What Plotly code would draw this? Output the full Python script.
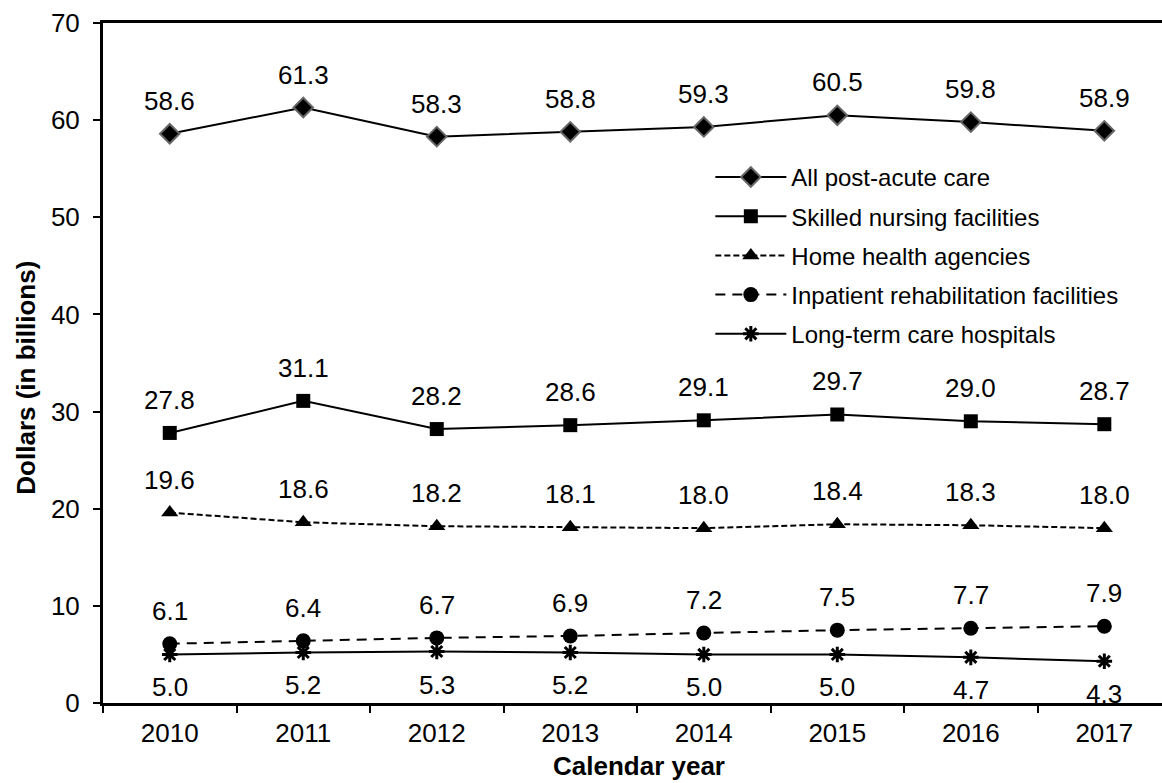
import plotly.graph_objects as go

years = ["2010", "2011", "2012", "2013", "2014", "2015", "2016", "2017"]
all_pac = [58.6, 61.3, 58.3, 58.8, 59.3, 60.5, 59.8, 58.9]
snf = [27.8, 31.1, 28.2, 28.6, 29.1, 29.7, 29.0, 28.7]
hha = [19.6, 18.6, 18.2, 18.1, 18.0, 18.4, 18.3, 18.0]
irf = [6.1, 6.4, 6.7, 6.9, 7.2, 7.5, 7.7, 7.9]
ltch = [5.0, 5.2, 5.3, 5.2, 5.0, 5.0, 4.7, 4.3]

FONT = "Liberation Sans, Arial, sans-serif"
fig = go.Figure()

series = [
    ("All post-acute care", all_pac, "solid", dict(symbol="diamond", size=15, color="black", line=dict(color="#666666", width=2)), 1),
    ("Skilled nursing facilities", snf, "solid", dict(symbol="square", size=14, color="black"), 1),
    ("Home health agencies", hha, "6px,3px", dict(symbol="triangle-up", size=15, color="black"), 1),
    ("Inpatient rehabilitation facilities", irf, "10px,7px", dict(symbol="circle", size=15, color="black"), 1),
    ("Long-term care hospitals", ltch, "solid", dict(symbol="asterisk-open", size=13, color="black", line=dict(color="black", width=3)), -1),
]

annotations = []
for name, vals, dash, marker, side in series:
    fig.add_trace(go.Scatter(
        x=years, y=vals, name=name, mode="lines+markers", legendgroup=name,
        line=dict(color="black", width=2, dash=dash),
        marker=marker,
    ))
    for i, yv in enumerate(vals):
        annotations.append(dict(
            x=i, y=yv, xref="x", yref="y", text=f"{yv:.1f}", showarrow=False,
            yshift=33 * side, font=dict(family=FONT, size=26, color="black"),
        ))

annotations.append(dict(
    text="<b>Calendar year</b>", xref="paper", yref="paper", x=0.506, y=-0.092,
    xanchor="center", yanchor="middle", showarrow=False,
    font=dict(family=FONT, size=26, color="black"),
))
annotations.append(dict(
    text="<b>Dollars (in billions)</b>", xref="paper", yref="paper", x=-0.073, y=0.478,
    xanchor="center", yanchor="middle", showarrow=False, textangle=-90,
    font=dict(family=FONT, size=26, color="black"),
))

fig.update_layout(
    width=1162, height=783,
    margin=dict(l=103, r=0, t=23, b=80),
    plot_bgcolor="white", paper_bgcolor="white",
    font=dict(family=FONT, size=26, color="black"),
    showlegend=True,
    legend=dict(x=0.5735, y=0.806, xanchor="left", yanchor="top",
                font=dict(family=FONT, size=24, color="black"),
                itemwidth=71, bgcolor="rgba(0,0,0,0)", tracegroupgap=5),
    annotations=annotations,
)
fig.update_xaxes(
    type="category", range=[-0.5, 7.432], tickson="boundaries", automargin=False,
    showline=True, linecolor="black", linewidth=3, mirror=True,
    ticks="outside", ticklen=7, tickwidth=2, tickcolor="black",
    showgrid=False, zeroline=False, ticklabelstandoff=5,
    tickfont=dict(family=FONT, size=26),
)
fig.update_yaxes(
    range=[0, 70], dtick=10, tickformat="d", automargin=False,
    showline=True, linecolor="black", linewidth=3,
    ticks="outside", ticklen=7, tickwidth=2, tickcolor="black",
    showgrid=False, zeroline=False, ticklabelstandoff=8,
    tickfont=dict(family=FONT, size=26),
)

fig.write_html("out.html", config={"displayModeBar": False},
               post_script="document.body.style.margin='0';document.body.style.overflow='hidden';")
